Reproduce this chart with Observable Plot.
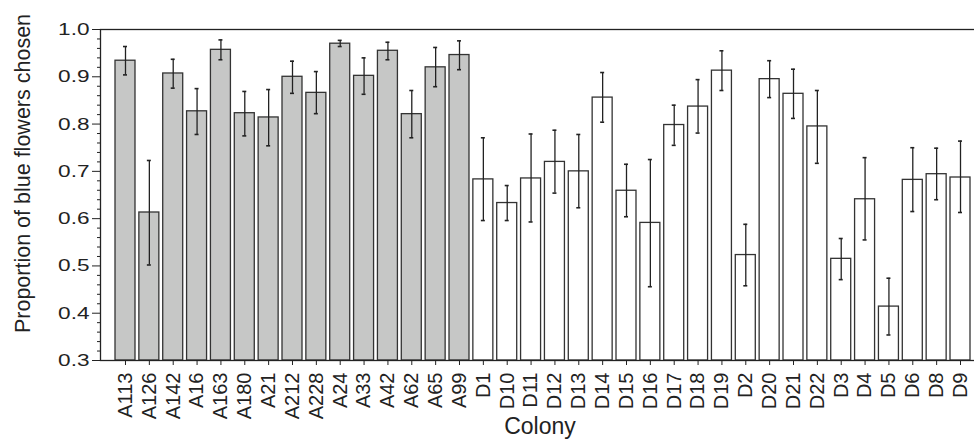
<!DOCTYPE html>
<html>
<head>
<meta charset="utf-8">
<script src="https://cdn.jsdelivr.net/npm/d3@7"></script>
<script src="https://cdn.jsdelivr.net/npm/@observablehq/plot@0.6"></script>
<style>
  html, body { margin: 0; padding: 0; background: #fff; }
  #chart svg { display: block; }
</style>
</head>
<body>
<div id="chart"></div>
<script>
const colonies = ["A113","A126","A142","A16","A163","A180","A21","A212","A228","A24","A33","A42","A62","A65","A99",
  "D1","D10","D11","D12","D13","D14","D15","D16","D17","D18","D19","D2","D20","D21","D22","D3","D4","D5","D6","D8","D9"];
const proportion = [0.934,0.613,0.907,0.827,0.957,0.823,0.814,0.900,0.866,0.970,0.902,0.955,0.821,0.920,0.946,
  0.683,0.633,0.685,0.720,0.700,0.856,0.659,0.591,0.798,0.837,0.913,0.523,0.895,0.864,0.795,0.515,0.641,0.414,0.682,0.694,0.687];
const errorHigh = [0.964,0.723,0.937,0.875,0.978,0.869,0.873,0.933,0.911,0.977,0.940,0.973,0.871,0.962,0.976,
  0.771,0.670,0.779,0.787,0.778,0.909,0.715,0.725,0.840,0.894,0.955,0.588,0.934,0.916,0.871,0.558,0.729,0.474,0.750,0.749,0.764];
const errorLow = [0.904,0.502,0.876,0.778,0.936,0.775,0.754,0.865,0.822,0.964,0.863,0.936,0.771,0.879,0.915,
  0.596,0.596,0.593,0.654,0.623,0.804,0.604,0.456,0.755,0.781,0.871,0.458,0.856,0.812,0.717,0.471,0.555,0.354,0.615,0.640,0.613];
const yMajorTicks = [0.3,0.4,0.5,0.6,0.7,0.8,0.9,1.0];
const yMinorTicks = [0.32,0.34,0.36,0.38,0.42,0.44,0.46,0.48,0.52,0.54,0.56,0.58,0.62,0.64,0.66,0.68,
  0.72,0.74,0.76,0.78,0.82,0.84,0.86,0.88,0.92,0.94,0.96,0.98];
const yTitle = "Proportion of blue flowers chosen";
const xTitle = "Colony";

const data = colonies.map((c, i) => ({colony: c, group: c[0], value: proportion[i], lo: errorLow[i], hi: errorHigh[i]}));

const ink = "#222";
const chart = Plot.plot({
  width: 974,
  height: 448,
  marginLeft: 100,
  marginRight: 0,
  marginTop: 29,
  marginBottom: 88,
  style: {fontFamily: "'Liberation Sans', Arial, sans-serif", color: ink, background: "#fff"},
  x: {type: "band", domain: colonies, range: [115, 970], paddingInner: 0.162, paddingOuter: 0, align: 0.5, round: false},
  y: {domain: [0.3, 1.0], nice: false},
  marks: [
    Plot.barY(data, {x: "colony", y1: 0.3, y2: "value",
      fill: d => d.group === "A" ? "#c6c7c6" : "#ffffff", stroke: "#333", strokeWidth: 1.3}),
    Plot.ruleX(data, {x: "colony", y1: "lo", y2: "hi", stroke: ink, strokeWidth: 1.3}),
    Plot.tickY(data, {x: "colony", y: "hi", insetLeft: 8, insetRight: 8, stroke: ink, strokeWidth: 1.6}),
    Plot.tickY(data, {x: "colony", y: "lo", insetLeft: 8, insetRight: 8, stroke: ink, strokeWidth: 1.6}),
    Plot.frame({stroke: ink, strokeWidth: 1.3, insetRight: -4}),
    Plot.axisY(yMinorTicks, {tickSize: 3, text: null, label: null, stroke: ink}),
    Plot.axisY(yMajorTicks, {tickSize: 8, tickPadding: 3, tickFormat: d3.format(".1f"), fontSize: 17, label: null, stroke: ink}),
    Plot.axisX({tickSize: 5, tickPadding: 7, tickRotate: -90, fontSize: 20, label: null, stroke: ink}),
    Plot.text([yTitle], {frameAnchor: "left", textAnchor: "middle", rotate: -90, dx: -77, dy: -21.5, fontSize: 21.5, fill: ink}),
    Plot.text([xTitle], {frameAnchor: "bottom", dx: 2.5, dy: 73.6, fontSize: 23, fill: ink})
  ]
});
document.getElementById("chart").appendChild(chart);

// widen y tick labels horizontally to match the reference's wide numerals
chart.querySelectorAll('g[aria-label="y-axis tick label"] text').forEach(t => {
  const w = t.getComputedTextLength();
  if (w > 0) {
    t.setAttribute("textLength", (w * 1.33).toFixed(1));
    t.setAttribute("lengthAdjust", "spacingAndGlyphs");
  }
});
</script>
</body>
</html>
